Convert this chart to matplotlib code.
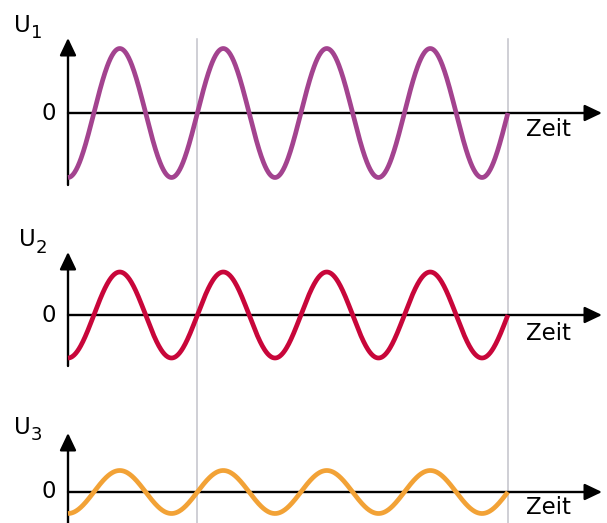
import numpy as np
import matplotlib
matplotlib.use('Agg')
import matplotlib.pyplot as plt

plt.rcParams['font.family'] = ['DejaVu Sans']

# data: three voltages, same frequency, amplitudes 3:2:1
names = ['U', 'U', 'U']
subscripts = ['1', '2', '3']
amplitudes = [3, 2, 1]
colors = ['#a3438f', '#c8063a', '#f2a236']
n_periods = 4.25          # time shown, in periods
marks = [1.25, 4.25]      # grey vertical lines (periods)
xlabel = 'Zeit'

# layout (pixels in a 607x523 figure)
W, H = 607, 523
x0 = 68                   # y axis position
P = 103.5                 # pixels per period
S = 21.5                  # pixels per amplitude unit
zero_y = [113, 315, 492]
axis_top = [38, 252, 433]
axis_bot = [185, 366, 523]
name_x = [14, 19, 14]
name_y = [25, 240, 427]
zeit_y = [130, 334, 508]
arrow_x = 602

fig = plt.figure(figsize=(W / 100, H / 100), dpi=100)

t = np.linspace(0, n_periods, 800)

for i in range(3):
    ax = fig.add_axes([0, 0, 1, 1])
    ax.patch.set_alpha(0)
    ax.axis('off')
    y0 = zero_y[i]
    ax.set_xlim(-x0 / P, (W - x0) / P)
    ax.set_ylim(-(H - y0) / S, y0 / S)

    def px(x, y):
        return (x - x0) / P, (y0 - y) / S

    if i == 0:
        for m in marks:
            ax.plot([m, m], [px(0, 39)[1], px(0, H)[1]], color='#c2c2ca',
                    lw=1.1, zorder=1, clip_on=False)

    arrow = dict(arrowstyle='-|>,head_length=1.05,head_width=0.5',
                 mutation_scale=10, lw=1.7, color='black',
                 shrinkA=0, shrinkB=0)
    # y axis
    ax.annotate('', xy=px(x0, axis_top[i]), xytext=px(x0, axis_bot[i]),
                arrowprops=arrow, annotation_clip=False)
    # x axis
    ax.annotate('', xy=px(arrow_x, y0), xytext=px(x0, y0),
                arrowprops=arrow, annotation_clip=False)

    ax.plot(t, -amplitudes[i] * np.cos(2 * np.pi * t), color=colors[i],
            lw=3.4, solid_capstyle='butt', zorder=3)

    ax.text(*px(56, y0), '0', ha='right', va='center', fontsize=16.5)
    ax.text(*px(name_x[i], name_y[i]), names[i], ha='left', va='center',
            fontsize=16.5)
    ax.text(*px(name_x[i] + 17, name_y[i] + 8), subscripts[i], ha='left',
            va='center', fontsize=13)
    ax.text(*px(526, zeit_y[i]), xlabel, ha='left', va='center',
            fontsize=16.5)

fig.savefig('out.png', dpi=100)
